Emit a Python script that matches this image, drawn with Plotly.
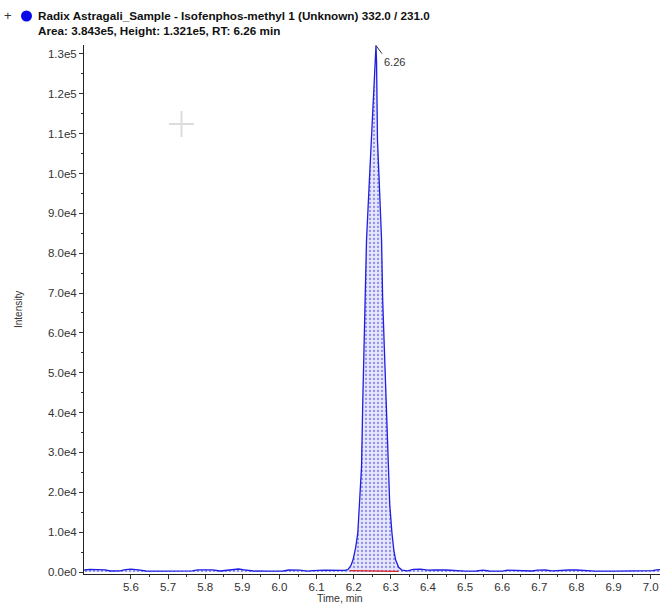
import plotly.graph_objects as go

# ---- data ----
times = [5.474, 5.49, 5.51, 5.53, 5.545, 5.57, 5.585, 5.60, 5.62, 5.64, 5.68, 5.72, 5.765, 5.78, 5.80, 5.82,
         5.84, 5.86, 5.875, 5.89, 5.905, 5.93, 5.97, 6.01, 6.025, 6.04, 6.055, 6.075, 6.09, 6.12, 6.15, 6.175,
         6.184, 6.192, 6.198, 6.205, 6.211, 6.216, 6.221, 6.2245, 6.230, 6.2345, 6.241, 6.247, 6.253, 6.260,
         6.2615, 6.264, 6.270, 6.275, 6.278, 6.283, 6.286, 6.292, 6.297, 6.303, 6.308, 6.313, 6.321, 6.330,
         6.345, 6.36, 6.38, 6.40, 6.42, 6.45, 6.478, 6.50, 6.53, 6.548, 6.565, 6.60, 6.615, 6.63, 6.645,
         6.68, 6.695, 6.715, 6.735, 6.76, 6.78, 6.80, 6.825, 6.85, 6.90, 6.95, 6.975, 6.99, 7.005, 7.015, 7.025]
intensity = [500, 650, 600, 550, 250, 300, 600, 700, 550, 250, 200, 250, 300, 550, 500, 550,
             250, 400, 600, 750, 550, 250, 200, 250, 500, 550, 450, 200, 350, 450, 450, 400,
             600, 1500, 3000, 6000, 9800, 17000, 26300, 43200, 68300, 83300, 96000, 108400, 121000, 132100,
             128000, 108400, 95000, 83300, 68300, 55000, 43200, 26300, 17000, 9800, 5500, 3000, 1200, 500,
             300, 650, 700, 450, 550, 500, 250, 200, 250, 450, 250, 200, 450, 400, 200,
             250, 450, 500, 300, 450, 500, 500, 350, 200, 200, 250, 400, 250, 350, 550, 600]

base_t = [6.19, 6.32]
base_i = [350, 150]

y_vals = [i * 10000 for i in range(14)]
y_text = ["0.0e0", "1.0e4", "2.0e4", "3.0e4", "4.0e4", "5.0e4", "6.0e4", "7.0e4", "8.0e4", "9.0e4",
          "1.0e5", "1.1e5", "1.2e5", "1.3e5"]
x_vals = [5.6, 5.7, 5.8, 5.9, 6.0, 6.1, 6.2, 6.3, 6.4, 6.5, 6.6, 6.7, 6.8, 6.9, 7.0]
x_text = ["5.6", "5.7", "5.8", "5.9", "6.0", "6.1", "6.2", "6.3", "6.4", "6.5", "6.6", "6.7", "6.8", "6.9", "7.0"]

apex_t = 6.26
apex_i = 132100

title1 = "<b>Radix Astragali_Sample - Isofenphos-methyl 1 (Unknown) 332.0 / 231.0</b>"
title2 = "<b>Area: 3.843e5, Height: 1.321e5, RT: 6.26 min</b>"

FONT = "Liberation Sans, Arial, sans-serif"

W, H = 662, 604
L, R, T, B = 84, 2, 45, 30
pw, ph = W - L - R, H - T - B


def px(xp):
    return (xp - L) / pw


def py(yp):
    return (H - B - yp) / ph


fig = go.Figure()
fig.add_trace(go.Scatter(
    x=times, y=intensity, mode="lines",
    line=dict(color="#1f1fe0", width=1.3),
    fill="tozeroy",
    fillcolor="rgba(225,225,250,1)",
    fillpattern=dict(shape=".", fgcolor="#3a3ad8", bgcolor="rgba(230,230,252,1)", size=4, solidity=0.25),
    hoverinfo="skip", showlegend=False,
))
fig.add_trace(go.Scatter(
    x=base_t, y=base_i, mode="lines",
    line=dict(color="#e02020", width=1.3),
    hoverinfo="skip", showlegend=False,
))

fig.add_annotation(
    x=apex_t, y=apex_i, xref="x", yref="y",
    text="6.26", showarrow=True, arrowhead=0, arrowwidth=1, arrowcolor="#333",
    ax=6, ay=8, xanchor="left", yanchor="top",
    font=dict(family=FONT, size=11, color="#333"),
)

fig.add_annotation(x=px(36), y=py(16), xref="paper", yref="paper", showarrow=False,
                   text=title1, xanchor="left", yanchor="middle",
                   font=dict(family=FONT, size=11.7, color="#111"))
fig.add_annotation(x=px(36), y=py(31), xref="paper", yref="paper", showarrow=False,
                   text=title2, xanchor="left", yanchor="middle",
                   font=dict(family=FONT, size=11.7, color="#111"))
fig.add_annotation(x=px(8), y=py(16), xref="paper", yref="paper", showarrow=False,
                   text="+", xanchor="center", yanchor="middle",
                   font=dict(family=FONT, size=13, color="#333"))
fig.add_shape(type="circle", xref="paper", yref="paper",
              x0=px(21), x1=px(32), y0=py(21.5), y1=py(10.5),
              fillcolor="#0a0ae8", line=dict(color="#0a0ae8", width=0))
# axis titles
fig.add_annotation(x=px(340), y=py(605), xref="paper", yref="paper", showarrow=False,
                   text="Time, min", xanchor="center", yanchor="bottom", borderpad=0,
                   font=dict(family=FONT, size=10.5, color="#333"))
fig.add_annotation(x=px(18), y=py(310), xref="paper", yref="paper", showarrow=False,
                   text="Intensity", textangle=-90, xanchor="center", yanchor="middle",
                   font=dict(family=FONT, size=10, color="#333"))
# cursor crosshair
fig.add_shape(type="line", xref="paper", yref="paper", x0=px(169), x1=px(194), y0=py(124), y1=py(124),
              line=dict(color="#dcdcdc", width=2))
fig.add_shape(type="line", xref="paper", yref="paper", x0=px(181.5), x1=px(181.5), y0=py(111), y1=py(137),
              line=dict(color="#dcdcdc", width=2))

fig.update_layout(
    width=W, height=H,
    margin=dict(l=L, r=R, t=T, b=B, autoexpand=False),
    paper_bgcolor="white", plot_bgcolor="white",
    font=dict(family=FONT, size=11, color="#333"),
    showlegend=False,
)
fig.update_xaxes(
    range=[5.4735, 7.025], automargin=False,
    tickvals=x_vals, ticktext=x_text,
    ticks="outside", ticklen=4, tickcolor="#333", ticklabelstandoff=-2,
    minor=dict(tickvals=[v + 0.05 for v in [5.4] + x_vals], ticks="outside", ticklen=2, tickcolor="#333"),
    showline=True, linecolor="#222", linewidth=1,
    showgrid=False, zeroline=False,
    tickfont=dict(size=11.5, color="#333"),
)
fig.update_yaxes(
    range=[-500, 132250], automargin=False,
    tickvals=y_vals, ticktext=y_text,
    ticks="outside", ticklen=4, tickcolor="#333",
    minor=dict(tickvals=[v + 5000 for v in y_vals], ticks="outside", ticklen=2, tickcolor="#333"),
    showline=True, linecolor="#222", linewidth=1,
    showgrid=False, zeroline=False,
    tickfont=dict(size=11.5, color="#333"),
)

fig.write_html("out.html", config={"displayModeBar": False},
               post_script="document.body.style.margin='0';document.body.style.overflow='hidden';")
